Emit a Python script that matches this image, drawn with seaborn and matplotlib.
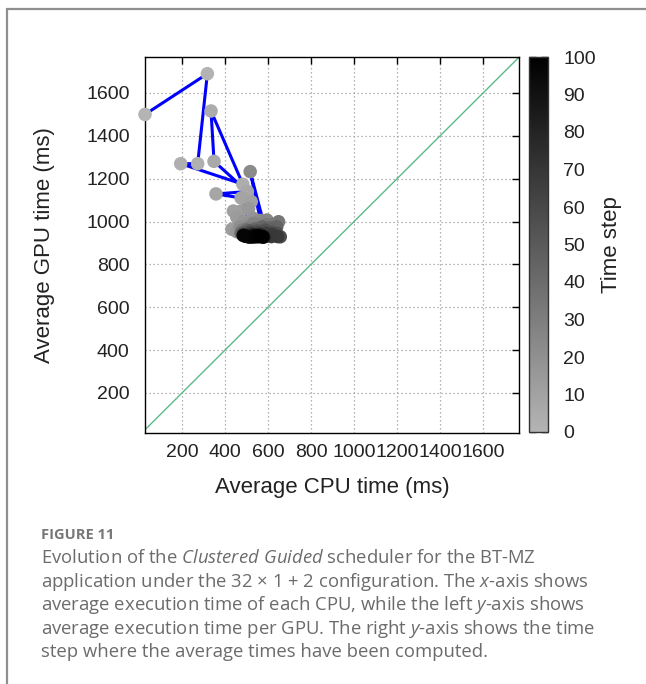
import numpy as np
import pandas as pd
import matplotlib
matplotlib.use("Agg")
import matplotlib.pyplot as plt
import matplotlib.cm as cm
from matplotlib.colors import LinearSegmentedColormap, Normalize
from matplotlib.lines import Line2D
import seaborn as sns

# ---------------- data ----------------
time_step = list(range(101))
cpu_ms = [28, 318, 273, 194, 483, 335, 349, 504, 358, 475,
          522, 439, 475, 432, 455, 510, 455, 485, 532, 500,
          545, 470, 565, 517, 578, 595, 560, 532, 505, 480,
          520, 555, 590, 620, 649, 625, 595, 565, 535, 505,
          475, 500, 540, 575, 610, 640, 626, 600, 570, 540,
          510, 485, 515, 550, 585, 615, 640, 657, 630, 600,
          570, 540, 510, 485, 520, 555, 590, 620, 645, 615,
          585, 555, 525, 495, 530, 565,
          500, 530, 560, 520, 545, 575, 490, 515, 540, 565,
          505, 535, 555, 580, 495, 525, 550, 570, 510, 540,
          560, 485, 530, 555, 575]
gpu_ms = [1500, 1690, 1270, 1270, 1174, 1516, 1281, 1140, 1129, 1110,
          1093, 1049, 1049, 964, 1020, 1060, 953, 1000, 1015, 985,
          1000, 975, 1005, 1233, 1000, 1007, 985, 990, 970, 960,
          965, 970, 985, 985, 999, 965, 960, 955, 950, 950,
          945, 960, 965, 975, 970, 975, 955, 945, 945, 940,
          940, 945, 955, 955, 960, 950, 945, 929, 935, 935,
          935, 935, 935, 938, 945, 945, 945, 940, 930, 930,
          930, 930, 930, 932, 940, 938,
          935, 930, 935, 928, 932, 930, 935, 930, 928, 932,
          930, 935, 930, 928, 932, 930, 935, 930, 928, 932,
          930, 935, 930, 932, 928]
x_ticks = [200, 400, 600, 800, 1000, 1200, 1400, 1600]
y_ticks = [200, 400, 600, 800, 1000, 1200, 1400, 1600]
cbar_ticks = [0, 10, 20, 30, 40, 50, 60, 70, 80, 90, 100]
x_label = "Average CPU time (ms)"
y_label = "Average GPU time (ms)"
cbar_label = "Time step"
caption_title = "FIGURE 11"
caption_lines = [
    r"Evolution of the $\mathit{Clustered\ Guided}$ scheduler for the BT-MZ",
    r"application under the 32 × 1 + 2 configuration. The $\mathit{x}$-axis shows",
    r"average execution time of each CPU, while the left $\mathit{y}$-axis shows",
    r"average execution time per GPU. The right $\mathit{y}$-axis shows the time",
    r"step where the average times have been computed.",
]

# ---------------- style ----------------
sns.set_style("white")
plt.rcParams['font.family'] = ['Liberation Sans', 'DejaVu Sans']
plt.rcParams['mathtext.fontset'] = 'custom'
plt.rcParams['mathtext.rm'] = 'Open Sans'
plt.rcParams['mathtext.it'] = 'Open Sans:italic'

df = pd.DataFrame({'step': time_step, 'cpu': cpu_ms, 'gpu': gpu_ms})
cmap = LinearSegmentedColormap.from_list('timegray', ['#b4b4b4', '#000000'])

W, H = 646, 684
fig = plt.figure(figsize=(W / 100, H / 100), dpi=100)
fig.patch.set_facecolor('white')


def box(l, t, r, b):
    return [l / W, 1 - b / H, (r - l) / W, (b - t) / H]


ax = fig.add_axes(box(145, 57, 519, 433))
cax = fig.add_axes(box(529, 57, 548, 432))

# diagonal x = y
ax.plot([0, 2000], [0, 2000], color='#5db88a', lw=1.0, zorder=1)

sns.lineplot(data=df, x='cpu', y='gpu', sort=False, estimator=None,
             color='#0000ff', lw=2.2, ax=ax, zorder=2)
sns.scatterplot(data=df, x='cpu', y='gpu', hue='step', palette=cmap,
                hue_norm=(0, 100), s=95, marker='o', edgecolor='none',
                linewidth=0, legend=False, ax=ax, zorder=3)
ax.collections[-1].set_clip_on(False)

ax.set_xlim(28, 1767)
ax.set_ylim(13, 1768)
ax.set_xticks(x_ticks)
ax.set_yticks(y_ticks)
ax.grid(True, color='#9c9c9c', ls=(0, (1, 2.2)), lw=0.9)
ax.set_axisbelow(True)
for s in ax.spines.values():
    s.set_color('black')
    s.set_linewidth(1.0)
ax.tick_params(direction='in', top=True, right=True, length=5, width=1,
               color='black', labelsize=14, labelcolor='#222222')
ax.tick_params(axis='x', pad=8)
ax.tick_params(axis='y', pad=11)

ax.set_xlabel(x_label, fontsize=16, color='#222222')
ax.set_ylabel(y_label, fontsize=16, color='#222222')
ax.xaxis.label.set_verticalalignment('center')
ax.yaxis.label.set_verticalalignment('center')
ax.xaxis.set_label_coords(0.5, (433 - 488) / 376)
ax.yaxis.set_label_coords((45 - 145) / 374, 0.5)

# colorbar
sm = cm.ScalarMappable(norm=Normalize(0, 100), cmap=cmap)
cbar = fig.colorbar(sm, cax=cax, ticks=cbar_ticks)
cbar.outline.set_edgecolor('#333333')
cbar.outline.set_linewidth(1.0)
cax.tick_params(direction='in', left=True, right=True, length=5, width=1,
                color='black', labelsize=14, labelcolor='#222222', pad=11)
cax.set_ylabel(cbar_label, fontsize=16, color='#222222', rotation=90)
cax.yaxis.set_label_position('right')
cax.yaxis.label.set_verticalalignment('center')
cax.yaxis.set_label_coords((612 - 529) / 19, 0.5)

# frame lines of the figure panel
fig.add_artist(Line2D([7 / W, 1], [1 - 9 / H, 1 - 9 / H], transform=fig.transFigure,
                      color='#8f8f8f', lw=1.6))
fig.add_artist(Line2D([7 / W, 7 / W], [0, 1 - 9 / H], transform=fig.transFigure,
                      color='#8f8f8f', lw=1.6))

# caption
cap_color = '#6b6b6b'
fig.text(41 / W, 1 - 539 / H, caption_title, fontsize=10.5, family='Open Sans',
         weight='bold', color='#777777', ha='left', va='baseline')
texts = []
base = 12
for i, line in enumerate(caption_lines):
    t = fig.text(41 / W, 1 - (563.3 + 23.4 * i) / H, line, fontsize=base,
                 family='Open Sans', color=cap_color, ha='left', va='baseline')
    texts.append(t)
fig.canvas.draw()
r = fig.canvas.get_renderer()
w2 = texts[1].get_window_extent(r).width
scale = 546 / w2
for t in texts:
    t.set_fontsize(base * scale)

fig.savefig('out.png', dpi=100, facecolor='white')
